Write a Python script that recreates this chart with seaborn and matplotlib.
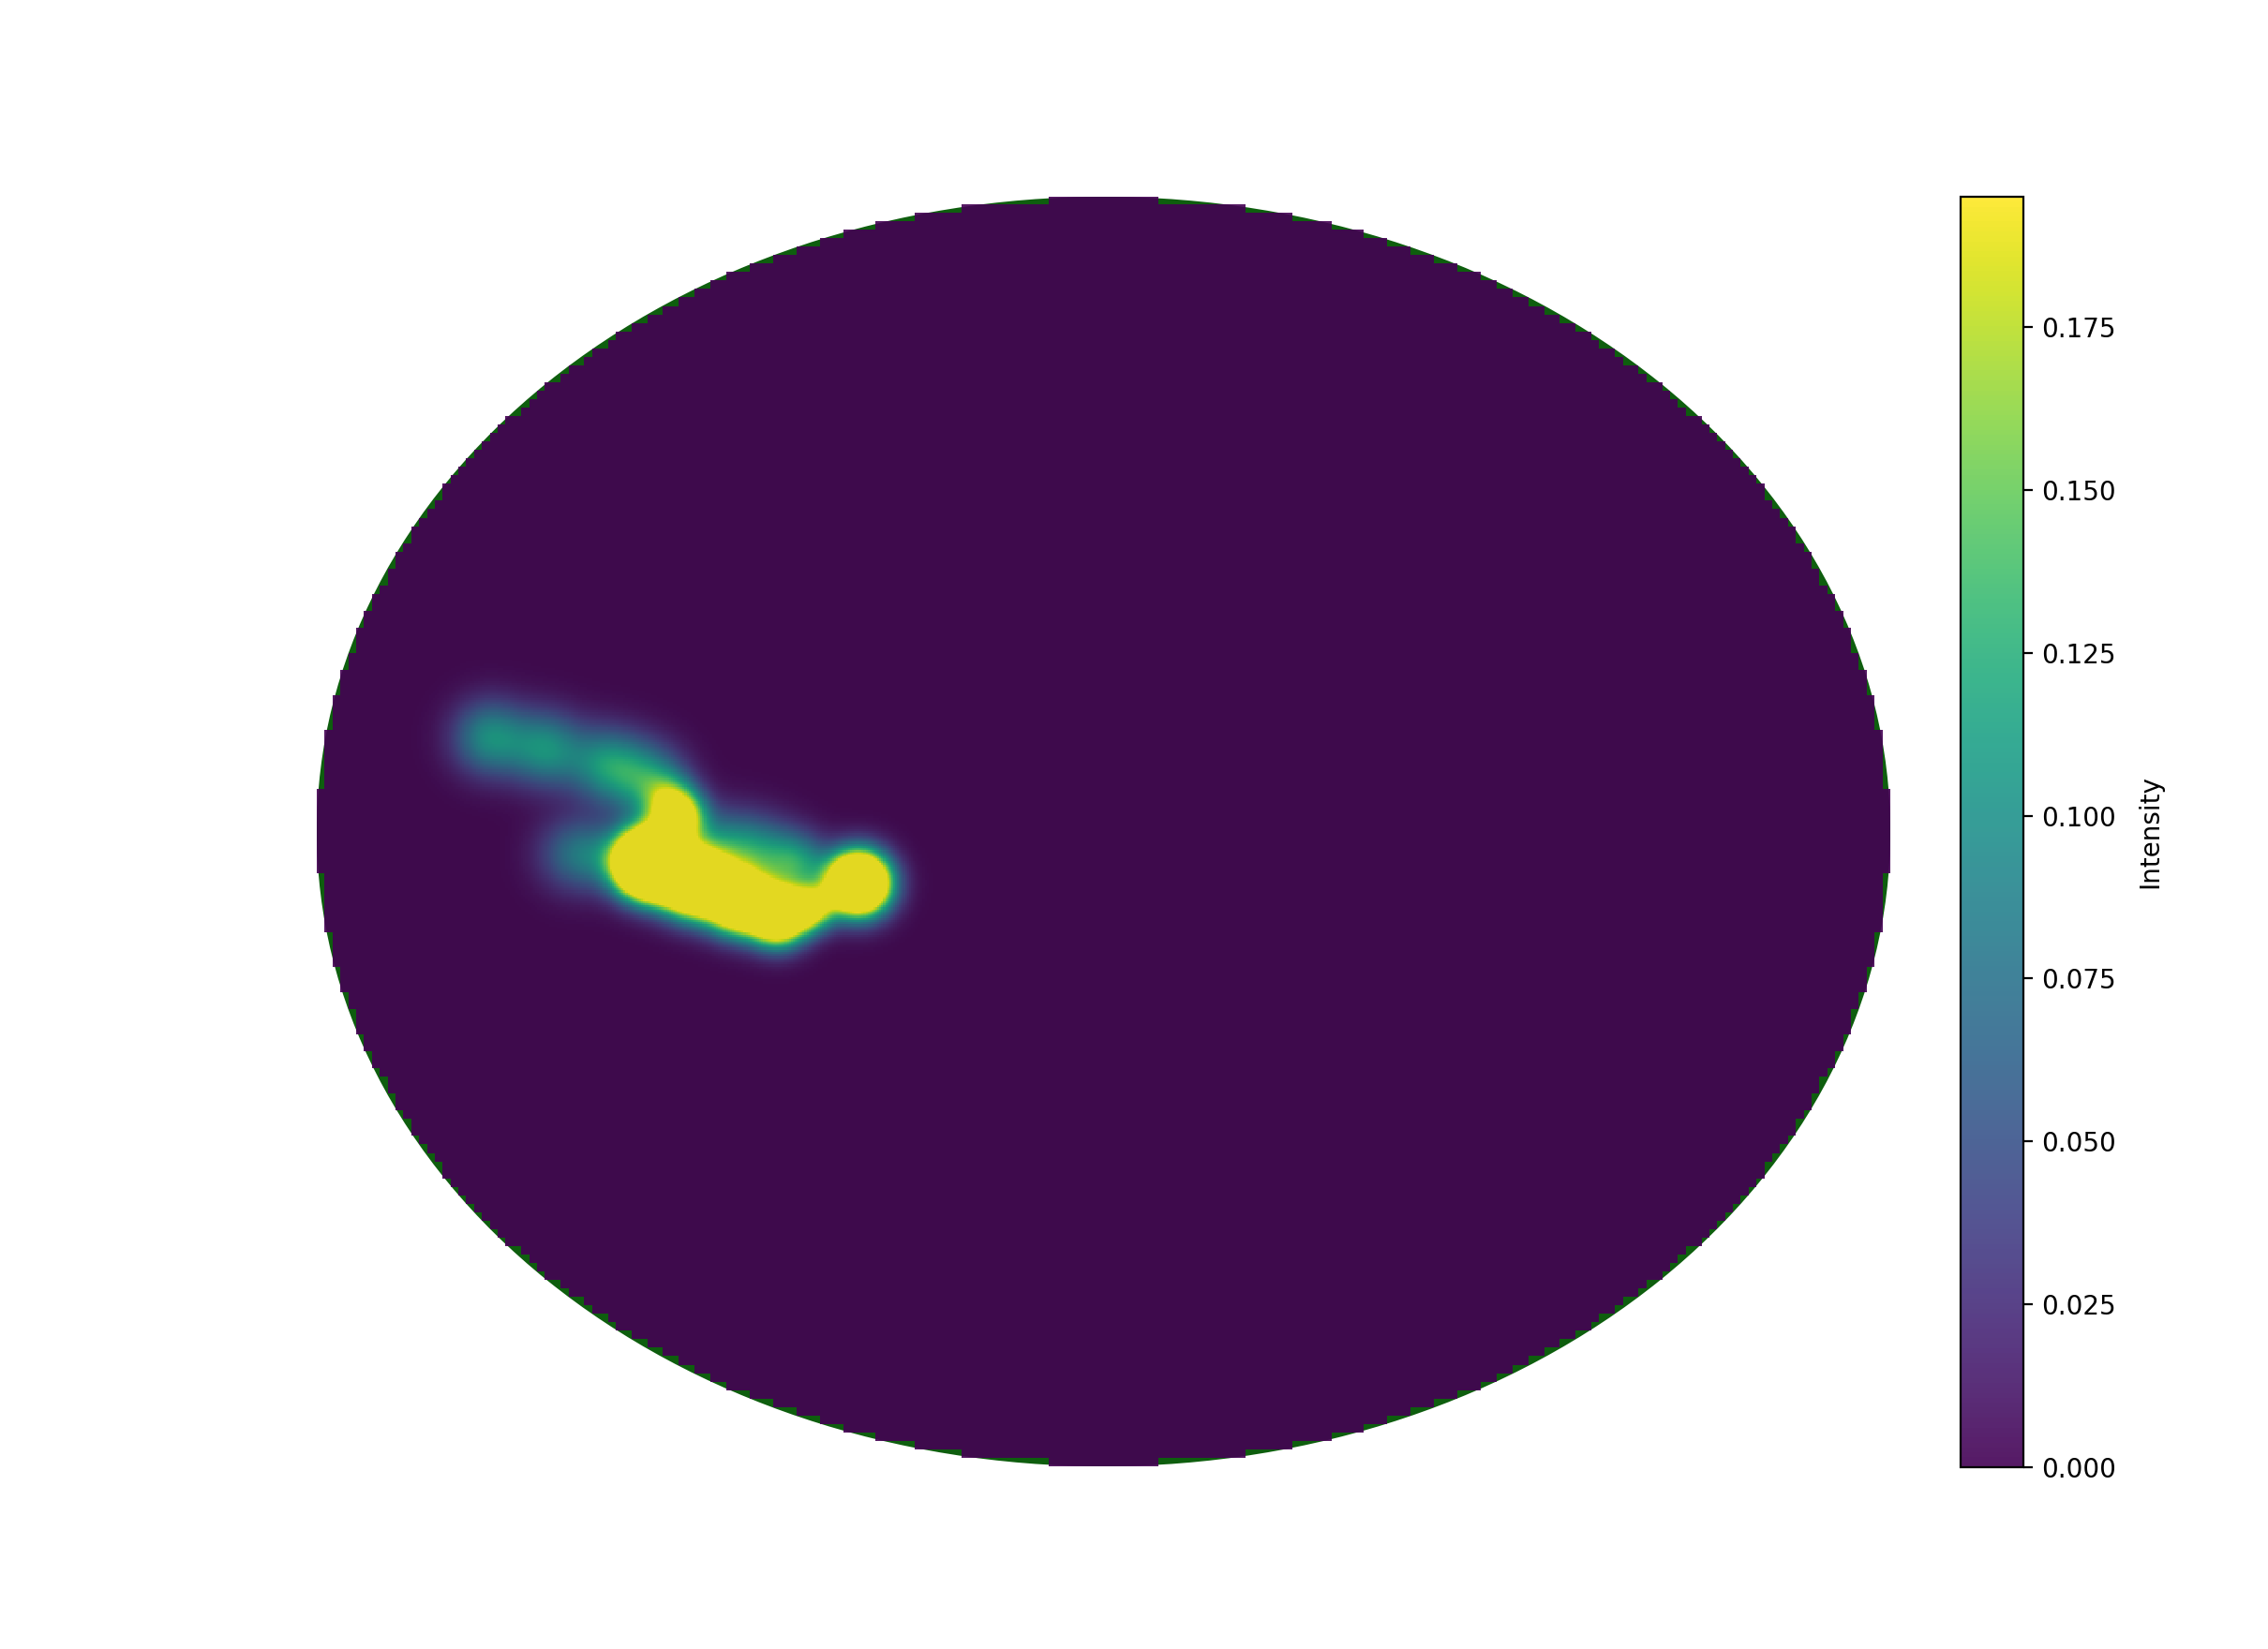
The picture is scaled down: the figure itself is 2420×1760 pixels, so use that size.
import numpy as np
import seaborn as sns
import matplotlib
matplotlib.use("Agg")
import matplotlib.pyplot as plt
from matplotlib.patches import Ellipse

# arena size (cm) and heatmap grid
arena_w, arena_h = 62.0, 50.0
n_cols, n_rows = 200, 150
vmax = 0.195

# hot spots: x (cm), y (cm, from top), peak, spread (cm)
spot_x = [6.83, 9.05, 11.41, 13.00, 13.81,
          10.13, 11.15,
          14.25, 13.07, 14.84, 16.58, 18.17, 19.50, 21.34,
          16.14, 17.61, 18.98]
spot_y = [21.33, 21.77, 22.40, 22.99, 23.62,
          25.90, 26.01,
          24.43, 26.27, 27.01, 27.79, 28.34, 28.04, 27.05,
          25.65, 26.01, 26.27]
spot_peak = [0.095, 0.095, 0.095, 0.095, 0.07,
             0.06, 0.035,
             0.25, 0.70, 0.50, 0.40, 0.40, 0.20, 0.55,
             0.08, 0.08, 0.09]
spot_sigma = [1.0, 1.0, 1.0, 1.0, 0.7,
              1.0, 0.9,
              0.7, 0.85, 0.85, 0.8, 0.75, 0.6, 0.8,
              1.0, 1.0, 0.8]


def arenaMask(eps=0.006):
    # keep a cell when its outer corner lies (about) inside the arena
    xc = (np.arange(n_cols) + 0.5) * arena_w / n_cols - arena_w / 2
    yc = (np.arange(n_rows) + 0.5) * arena_h / n_rows - arena_h / 2
    X, Y = np.meshgrid(xc, yc)
    cx = np.abs(X) + arena_w / n_cols / 2
    cy = np.abs(Y) + arena_h / n_rows / 2
    return (cx / (arena_w / 2)) ** 2 + (cy / (arena_h / 2)) ** 2 <= 1 + eps


def intensityField(fine=4):
    xs = (np.arange(n_cols * fine) + 0.5) * arena_w / (n_cols * fine)
    ys = (np.arange(n_rows * fine) + 0.5) * arena_h / (n_rows * fine)
    X, Y = np.meshgrid(xs, ys)
    Z = np.zeros_like(X)
    for x, y, p, s in zip(spot_x, spot_y, spot_peak, spot_sigma):
        Z += p * np.exp(-((X - x) ** 2 + (Y - y) ** 2) / (2 * s ** 2))
    mask = np.kron(arenaMask(), np.ones((fine, fine), dtype=bool))
    return np.where(mask, Z, np.nan)


if __name__ == "__main__":
    fig = plt.figure(figsize=(12.1, 8.8), dpi=200)
    ax = fig.add_axes([338 / 2420, 195 / 1760, 1679 / 2420, 1355 / 1760])
    cax = fig.add_axes([2092 / 2420, 194 / 1760, 67 / 2420, 1356 / 1760])

    ax.add_patch(Ellipse((arena_w / 2, arena_h / 2), arena_w, arena_h,
                         facecolor="#0e5e0e", edgecolor="none", zorder=0))
    cmap = sns.color_palette("viridis", as_cmap=True)
    im = ax.imshow(intensityField(), cmap=cmap, vmin=0, vmax=vmax, alpha=0.9,
                   extent=(0, arena_w, arena_h, 0), aspect="auto",
                   interpolation="nearest", zorder=1)
    ax.set_xlim(0, arena_w)
    ax.set_ylim(arena_h, 0)
    ax.axis("off")

    cb = fig.colorbar(im, cax=cax)
    cb.set_label("Intensity", labelpad=8)

    fig.savefig("out.png", dpi=200)
